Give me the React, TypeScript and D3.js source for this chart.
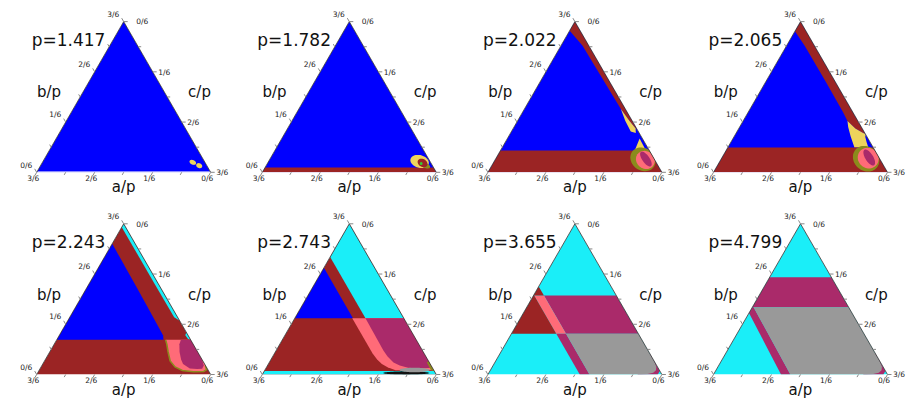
import React from "react";
import * as d3 from "d3";

type Pt = [number, number]; // [a/p, b/p]  (c/p = 1/2 - a/p - b/p)
type Layer =
  | { phase: string; pts: Pt[] }
  | { phase: string; ell: [number, number, number, number, number] }
  | { phase: string; line: Pt[] };

const titles = ["p=1.417", "p=1.782", "p=2.022", "p=2.065", "p=2.243", "p=2.743", "p=3.655", "p=4.799"];
const axisNames = ["a/p", "b/p", "c/p"];
const majorSixths = [0, 1, 2, 3];
const minorSixths = [0.5, 1.5, 2.5];

const phaseKeys = ["blue", "brown", "cyan", "magenta", "pink", "gray", "yellow", "olive", "green", "black", "lilac"];
const phaseColors = ["#0000ff", "#9b2424", "#1aeef8", "#aa2a6a", "#ff6b78", "#999999", "#eed45c", "#8b8b1c", "#33cc33", "#111111", "#8a8aff"];

const FULL: Pt[] = [[0.5, 0], [0, 0.5], [0, 0]];

const panel1: Layer[] = [
  { phase: "blue", pts: FULL },
  { phase: "lilac", pts: [[0.5, 0], [0, 0], [0, 0.004], [0.496, 0.004]] },
  { phase: "yellow", ell: [0.035, 0.033, 0.010, 0.0075, 25] },
  { phase: "yellow", ell: [0.022, 0.022, 0.009, 0.008, 25] },
];

const panel2: Layer[] = [
  { phase: "blue", pts: FULL },
  { phase: "brown", pts: [[0.5, 0], [0, 0], [0, 0.016], [0.484, 0.016]] },
  { phase: "yellow", ell: [0.03, 0.036, 0.027, 0.021, 15] },
  { phase: "olive", ell: [0.02, 0.022, 0.014, 0.008, 20] },
  { phase: "brown", ell: [0.024, 0.031, 0.015, 0.013, 30] },
  { phase: "green", ell: [0.029, 0.029, 0.004, 0.005, 0] },
];

const panel3: Layer[] = [
  { phase: "blue", pts: FULL },
  { phase: "brown", pts: [[0, 0.5], [0.03, 0.47], [0.018, 0.42], [0.015, 0.3], [0.013, 0.21], [0.008, 0.17], [0.003, 0.145], [0, 0.14]] },
  { phase: "yellow", pts: [[0.013, 0.21], [0.02, 0.17], [0.022, 0.135], [0.01, 0.13], [0.003, 0.145], [0.008, 0.17]] },
  { phase: "yellow", pts: [[0.042, 0.072], [0.01, 0.072], [0.008, 0.112]] },
  { phase: "brown", pts: [[0.5, 0], [0, 0], [0, 0.072], [0.428, 0.072]] },
  { phase: "olive", ell: [0.033, 0.043, 0.038, 0.037, 35] },
  { phase: "pink", ell: [0.027, 0.041, 0.028, 0.029, 35] },
  { phase: "magenta", ell: [0.024, 0.044, 0.025, 0.012, 55] },
];

const panel4: Layer[] = [
  { phase: "blue", pts: FULL },
  { phase: "brown", pts: [[0, 0.5], [0.032, 0.468], [0.028, 0.42], [0.027, 0.3], [0.028, 0.2], [0.03, 0.17], [0.02, 0.145], [0.005, 0.13], [0, 0.128]] },
  { phase: "yellow", pts: [[0.03, 0.17], [0.038, 0.15], [0.046, 0.12], [0.054, 0.082], [0.014, 0.082], [0.01, 0.1], [0.005, 0.118], [0, 0.125], [0, 0.128], [0.005, 0.13], [0.02, 0.145]] },
  { phase: "brown", pts: [[0.5, 0], [0, 0], [0, 0.082], [0.418, 0.082]] },
  { phase: "olive", ell: [0.039, 0.045, 0.04, 0.04, 40] },
  { phase: "pink", ell: [0.032, 0.047, 0.031, 0.033, 40] },
  { phase: "magenta", ell: [0.028, 0.049, 0.026, 0.013, 58] },
];

const panel5: Layer[] = [
  { phase: "brown", pts: FULL },
  { phase: "blue", pts: [[0.385, 0.115], [0.078, 0.115], [0.072, 0.13], [0.07, 0.2], [0.068, 0.3], [0.066, 0.434]] },
  { phase: "cyan", pts: [[0, 0.5], [0.011, 0.489], [0.011, 0.3], [0.01, 0.19], [0, 0.178]] },
  { phase: "cyan", pts: [[0, 0.14], [0.008, 0.13], [0.006, 0.118], [0, 0.115]] },
  { phase: "pink", pts: [[0.072, 0.115], [0, 0.115], [0, 0.03], [0.004, 0.016], [0.015, 0.01], [0.045, 0.009], [0.075, 0.013], [0.09, 0.025], [0.094, 0.045], [0.085, 0.075], [0.076, 0.1]] },
  { phase: "olive", line: [[0.072, 0.115], [0.076, 0.1], [0.085, 0.075], [0.094, 0.045], [0.09, 0.025], [0.075, 0.013], [0.045, 0.009], [0.015, 0.01], [0.004, 0.016], [0, 0.03]] },
  { phase: "magenta", pts: [[0.028, 0.115], [0.04, 0.1], [0.052, 0.075], [0.06, 0.05], [0.062, 0.035], [0.05, 0.02], [0.03, 0.018], [0.015, 0.019], [0.005, 0.03], [0, 0.05], [0, 0.115]] },
];

const panel6: Layer[] = [
  { phase: "brown", pts: FULL },
  { phase: "cyan", pts: [[0.11, 0.187], [0, 0.187], [0, 0.5], [0.11, 0.39]] },
  { phase: "blue", pts: [[0.313, 0.187], [0.146, 0.354], [0.146, 0.187]] },
  { phase: "pink", pts: [[0.148, 0.187], [0, 0.187], [0, 0.014], [0.11, 0.014], [0.128, 0.024], [0.139, 0.035], [0.145, 0.05], [0.148, 0.07]] },
  { phase: "magenta", pts: [[0.11, 0.187], [0, 0.187], [0, 0.022], [0.04, 0.02], [0.07, 0.022], [0.09, 0.03], [0.103, 0.04], [0.11, 0.06], [0.112, 0.08]] },
  { phase: "cyan", pts: [[0.5, 0], [0, 0], [0, 0.012], [0.488, 0.012]] },
  { phase: "black", ell: [0.084, 0.005, 0.066, 0.0055, 0] },
  { phase: "gray", ell: [0.055, 0.015, 0.043, 0.0075, 0] },
  { phase: "olive", pts: [[0, 0.045], [0.007, 0.04], [0.008, 0.015], [0, 0.01]] },
];

const panel7: Layer[] = [
  { phase: "cyan", pts: FULL },
  { phase: "magenta", pts: [[0.208, 0.135], [0, 0.135], [0, 0.262], [0.208, 0.262]] },
  { phase: "pink", pts: [[0.236, 0.135], [0.208, 0.135], [0.208, 0.262], [0.236, 0.262]] },
  { phase: "brown", pts: [[0.365, 0.135], [0.236, 0.135], [0.236, 0.262], [0.208, 0.262], [0.208, 0.292]] },
  { phase: "magenta", pts: [[0.236, 0], [0.208, 0], [0.208, 0.135], [0.236, 0.135]] },
  { phase: "magenta", pts: [[0, 0.07], [0, 0.012], [0.012, 0], [0.07, 0]] },
  { phase: "gray", pts: [[0.208, 0.135], [0, 0.135], [0, 0.045], [0.003, 0.026], [0.01, 0.014], [0.022, 0.006], [0.04, 0.002], [0.06, 0], [0.208, 0]] },
];

const panel8: Layer[] = [
  { phase: "cyan", pts: FULL },
  { phase: "magenta", pts: [[0.2765, 0.2235], [0, 0.2235], [0, 0.323], [0.177, 0.323]] },
  { phase: "magenta", pts: [[0.306, 0], [0.279, 0], [0.273, 0.2235], [0.2765, 0.2235], [0.296, 0.204]] },
  { phase: "magenta", pts: [[0, 0.07], [0, 0.012], [0.012, 0], [0.07, 0]] },
  { phase: "gray", pts: [[0.273, 0.2235], [0, 0.2235], [0, 0.045], [0.003, 0.026], [0.01, 0.014], [0.022, 0.006], [0.04, 0.002], [0.06, 0], [0.279, 0]] },
];

const panels = [panel1, panel2, panel3, panel4, panel5, panel6, panel7, panel8];

const TW = 174;
const TH = (TW * Math.sqrt(3)) / 2;

function Panel({ idx, title, layers, color }: { idx: number; title: string; layers: Layer[]; color: (k: string) => string }) {
  const col = idx % 4;
  const row = Math.floor(idx / 4);
  const xL = 36.7 + 225.6 * col;
  const yB = 172.3 + 202.2 * row;
  const xs = d3.scaleLinear().domain([0, 1]).range([xL, xL + TW]);
  const ys = d3.scaleLinear().domain([0, 0.5]).range([yB, yB - TH]);
  const P = (a: number, b: number): [number, number] => [xs(1 - 2 * a - b), ys(b)];
  const lineGen = d3.line();
  const polyPath = (pts: Pt[]) => lineGen(pts.map(([a, b]) => P(a, b))) + "Z";
  const openPath = (pts: Pt[]) => lineGen(pts.map(([a, b]) => P(a, b))) || "";
  const ellPath = (e: [number, number, number, number, number]) => {
    const [a, b, ra, rb, rot] = e;
    const [cx, cy] = P(a, b);
    const rx = xs(2 * ra) - xs(0);
    const ry = ys(0) - ys(rb);
    const th = (rot * Math.PI) / 180;
    const pts: [number, number][] = d3.range(60).map((k) => {
      const t = (k / 60) * 2 * Math.PI;
      const ex = rx * Math.cos(t);
      const ey = ry * Math.sin(t);
      return [cx + ex * Math.cos(th) - ey * Math.sin(th), cy + ex * Math.sin(th) + ey * Math.cos(th)];
    });
    return lineGen(pts) + "Z";
  };
  const L = P(0.5, 0);
  const T = P(0, 0.5);
  const R = P(0, 0);
  const clipId = `tri-clip-${idx}`;

  const tickEls: React.ReactNode[] = [];
  const addTicks = (vals: number[], len: number, labels: boolean) => {
    vals.forEach((k) => {
      const v = k / 6;
      const pb = P(0.5 - v, v);
      const pc = P(0, 0.5 - v);
      const pa = P(v, 0);
      tickEls.push(
        <line key={`tb${k}`} x1={pb[0]} y1={pb[1]} x2={pb[0] - 0.5 * len} y2={pb[1] - 0.866 * len} stroke="#888" strokeWidth={1} />,
        <line key={`tc${k}`} x1={pc[0]} y1={pc[1]} x2={pc[0] + len} y2={pc[1]} stroke="#888" strokeWidth={1} />,
        <line key={`ta${k}`} x1={pa[0]} y1={pa[1]} x2={pa[0] - 0.5 * len} y2={pa[1] + 0.866 * len} stroke="#888" strokeWidth={1} />
      );
      if (labels) {
        const lab = `${k}/6`;
        tickEls.push(
          <text key={`lb${k}`} x={pb[0] - 10.5} y={pb[1] - 4.8} fontSize={7.5} textAnchor="middle" fill="#222">{lab}</text>,
          <text key={`lc${k}`} x={pc[0] + (k === 0 ? 12.5 : 5.5)} y={pc[1] + 2.7} fontSize={7.5} textAnchor="start" fill="#222">{lab}</text>,
          <text key={`la${k}`} x={pa[0] - 3.5} y={pa[1] + 8.5} fontSize={7.5} textAnchor="middle" fill="#222">{lab}</text>
        );
      }
    });
  };
  addTicks(majorSixths, 4, true);
  addTicks(minorSixths, 3, false);

  return (
    <g>
      <defs>
        <clipPath id={clipId}>
          <path d={`M${L[0]},${L[1]}L${T[0]},${T[1]}L${R[0]},${R[1]}Z`} />
        </clipPath>
      </defs>
      <g clipPath={`url(#${clipId})`}>
        {layers.map((ly, i) => {
          if ("pts" in ly) return <path key={i} d={polyPath(ly.pts)} fill={color(ly.phase)} />;
          if ("ell" in ly) return <path key={i} d={ellPath(ly.ell)} fill={color(ly.phase)} />;
          return <path key={i} d={openPath(ly.line)} fill="none" stroke={color(ly.phase)} strokeWidth={1.6} />;
        })}
      </g>
      <path d={`M${L[0]},${L[1]}L${T[0]},${T[1]}L${R[0]},${R[1]}`} fill="none" stroke="#333" strokeWidth={0.8} />
      {tickEls}
      <text x={xL - 5} y={yB - TH + 24.4} fontSize={17} fill="#111">{title}</text>
      <text x={xL + TW / 2} y={yB + 20} fontSize={15} textAnchor="middle" fill="#111">{axisNames[0]}</text>
      <text x={xL + 12.3} y={yB - 75} fontSize={15} textAnchor="middle" fill="#111">{axisNames[1]}</text>
      <text x={xL + 162.8} y={yB - 75} fontSize={15} textAnchor="middle" fill="#111">{axisNames[2]}</text>
    </g>
  );
}

export default function App() {
  const color = d3.scaleOrdinal<string, string>().domain(phaseKeys).range(phaseColors);
  return (
    <svg width={915} height={410} style={{ position: "absolute", left: 0, top: 0 }} fontFamily="'DejaVu Sans', Verdana, sans-serif">
      <rect width={915} height={410} fill="#fff" />
      {panels.map((layers, i) => (
        <Panel key={i} idx={i} title={titles[i]} layers={layers} color={color} />
      ))}
    </svg>
  );
}
